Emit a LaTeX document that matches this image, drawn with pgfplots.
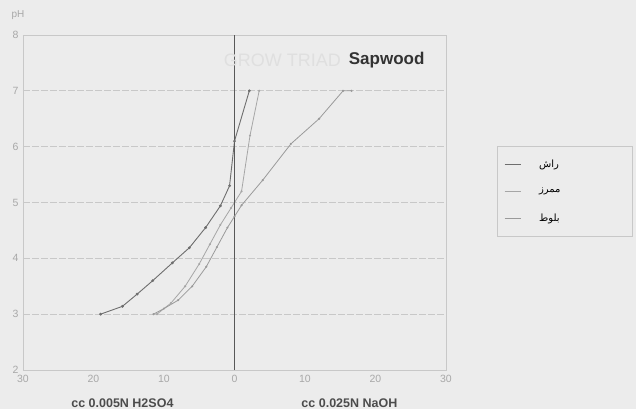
\documentclass[border=0pt]{standalone}
\usepackage{pgfplots}
\pgfplotsset{compat=1.18}
\usepackage{fontspec}
\setmainfont{Liberation Sans}
\newfontfamily\arabicfont[Script=Arabic]{DejaVu Sans}
\TeXXeTstate=1
\definecolor{paper}{HTML}{ECECEC}
\definecolor{gridc}{HTML}{C8C8C8}
\definecolor{tickc}{HTML}{A8A8A8}
\definecolor{sone}{HTML}{6E6E6E}
\definecolor{stwo}{HTML}{A6A6A6}
\definecolor{sthree}{HTML}{9A9A9A}
\newcommand{\fa}[1]{\hspace*{16pt}{\arabicfont\beginR #1\endR}}
\begin{document}
\begin{tikzpicture}[x=1pt,y=1pt]
\fill[paper] (-23,-39) rectangle (613,370);
\useasboundingbox (-23,-39) rectangle (613,370);
\begin{axis}[
  at={(0,0)}, anchor=south west,
  scale only axis, width=423pt, height=335pt,
  xmin=-30, xmax=30, ymin=2, ymax=8,
  xtick={-30,-20,-10,0,10,20,30},
  xticklabels={30,20,10,0,10,20,30},
  ytick={2,3,4,5,6,7,8},
  tick label style={font=\fontsize{10.5}{11}\selectfont, color=tickc},
  xticklabel style={yshift=-2pt},
  yticklabel style={xshift=-1pt},
  /pgf/number format/assume math mode=true,
  major tick length=0pt,
  axis line style={color=gridc, line width=0.8pt},
  ymajorgrids, grid style={color=gridc, line width=0.8pt, dash pattern=on 7pt off 2pt},
  legend style={at={(1.1206,0.6687)}, anchor=north west, draw=gridc, fill=none,
    font=\fontsize{10}{11}\selectfont, row sep=15pt, inner xsep=7pt, inner ysep=12pt,
    nodes={text width=100pt, align=left}},
  legend cell align=left,
  legend image code/.code={\draw[#1] (0pt,0pt) -- (16pt,0pt);},
  clip=false,
]
\addplot[sone, line width=0.9pt, mark=*, mark size=0.9pt] coordinates {
  (-19,3) (-15.9,3.14) (-13.8,3.36) (-11.6,3.6) (-8.8,3.92) (-6.4,4.19)
  (-4.1,4.55) (-2,4.94) (-0.7,5.3) (0,6.1) (2.1,7)};
\addplot[stwo, line width=0.8pt, mark=*, mark size=0.6pt] coordinates {
  (-11,3) (-9,3.2) (-7,3.5) (-5,3.9) (-3.5,4.25) (-2,4.6) (-0.5,4.9)
  (1,5.2) (2.2,6.2) (3.5,7)};
\addplot[sthree, line width=0.8pt, mark=*, mark size=0.6pt] coordinates {
  (-11.5,3) (-10,3.1) (-8,3.25) (-6,3.5) (-4,3.85) (-2.5,4.2) (-1,4.55)
  (0,4.75) (1,4.95) (4,5.4) (8,6.05) (12,6.5) (15.4,7) (16.6,7)};
\addplot[sone!80!black, line width=1.4pt, forget plot] coordinates {(0,2) (0,8)};
\legend{{\fa{راش}},{\fa{ممرز}},{\fa{بلوط}}}
\node[font=\fontsize{18}{19}\selectfont, text=gray!25, anchor=east] at (axis description cs:0.76,0.925) {GROW TRIAD};
\node[font=\bfseries\fontsize{17}{18}\selectfont, text=black!80, anchor=west] at (axis description cs:0.762,0.925) {Sapwood};
\node[font=\bfseries\fontsize{12.5}{13}\selectfont, text=black!70] at (axis cs:-15.9,2) [yshift=-33pt] {cc 0.005N H2SO4};
\node[font=\bfseries\fontsize{12.5}{13}\selectfont, text=black!70] at (axis cs:16.3,2) [yshift=-33pt] {cc 0.025N NaOH};
\node[font=\fontsize{10}{11}\selectfont, text=tickc] at (axis description cs:-0.012,1.06) {pH};
\end{axis}
\end{tikzpicture}
\end{document}
